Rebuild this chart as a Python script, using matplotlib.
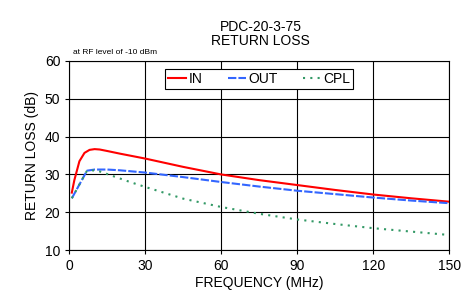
import matplotlib
matplotlib.use('Agg')
import matplotlib.pyplot as plt

plt.rcParams['font.family'] = ['Liberation Sans', 'DejaVu Sans']

# return loss vs frequency
freq_in = [1, 2, 4, 6, 8, 10, 12, 15, 20, 30, 45, 60, 75, 90, 105, 120, 135, 150]
rl_in = [25.2, 28.5, 33.5, 35.7, 36.5, 36.7, 36.6, 36.2, 35.5, 34.2, 32.0, 30.0, 28.5, 27.2, 25.9, 24.7, 23.7, 22.8]

freq_out = [1, 7, 10, 15, 20, 30, 45, 60, 75, 90, 105, 120, 135, 150]
rl_out = [23.7, 31.0, 31.3, 31.3, 31.1, 30.5, 29.3, 28.0, 26.8, 25.7, 24.8, 23.9, 23.1, 22.4]

freq_cpl = [1, 7, 9, 12, 18, 24, 30, 45, 60, 75, 90, 105, 120, 135, 150]
rl_cpl = [23.7, 31.0, 31.1, 30.8, 29.4, 28.0, 26.7, 23.6, 21.4, 19.6, 18.1, 16.9, 15.8, 14.9, 14.0]

fig = plt.figure(figsize=(4.65, 2.96), dpi=100)
ax = fig.add_axes([0.149, 0.155, 0.817, 0.639])

ax.plot(freq_in, rl_in, color='#ff0000', lw=1.5, label='IN')
ax.plot(freq_out, rl_out, color='#3366ff', lw=1.5, dashes=(4, 1), label='OUT')
ax.plot(freq_cpl, rl_cpl, color='#339966', lw=1.5, dashes=(1, 2.5), label='CPL')

ax.set_xlim(0, 150)
ax.set_ylim(10, 60)
ax.set_xticks([0, 30, 60, 90, 120, 150])
ax.set_yticks([10, 20, 30, 40, 50, 60])
ax.grid(True, color='black', lw=0.8)
ax.tick_params(labelsize=10, length=3, width=0.8)
for s in ax.spines.values():
    s.set_linewidth(0.8)

ax.set_xlabel('FREQUENCY (MHz)', fontsize=10, labelpad=2)
ax.set_ylabel('RETURN LOSS (dB)', fontsize=10, labelpad=4)
fig.text(0.56, 0.885, 'PDC-20-3-75\nRETURN LOSS', ha='center', va='center', fontsize=10, linespacing=1.0)
fig.text(0.157, 0.81, 'at RF level of -10 dBm', fontsize=6, va='bottom')

leg = ax.legend(loc='upper center', bbox_to_anchor=(0.5, 0.955), ncol=3, fontsize=10,
                frameon=True, fancybox=False, edgecolor='black', framealpha=1,
                handlelength=1.3, handletextpad=0.2, columnspacing=1.8, borderpad=0.2,
                borderaxespad=0)
leg.get_frame().set_linewidth(0.8)

fig.savefig('out.png', dpi=100)
